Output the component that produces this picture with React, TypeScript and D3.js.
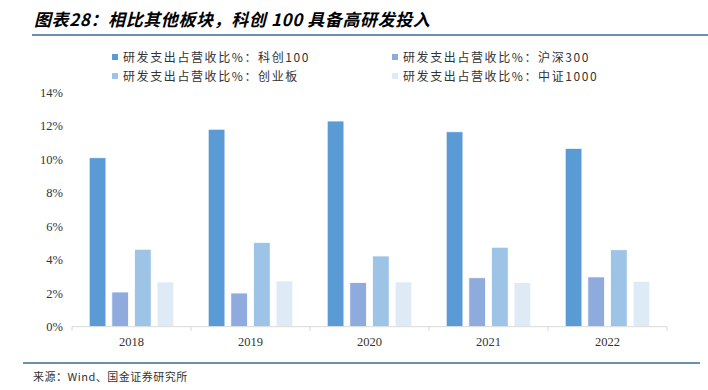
import React from "react";
import * as d3 from "d3";

const categories = ["2018", "2019", "2020", "2021", "2022"];
const seriesNames = [
  "研发支出占营收比%：科创100",
  "研发支出占营收比%：沪深300",
  "研发支出占营收比%：创业板",
  "研发支出占营收比%：中证1000",
];
const kc100 = [10.08, 11.78, 12.27, 11.63, 10.64];
const hs300 = [2.07, 2.01, 2.63, 2.92, 2.97];
const cyb = [4.62, 5.03, 4.22, 4.74, 4.59];
const zz1000 = [2.67, 2.73, 2.67, 2.63, 2.71];
const yTicks = [0, 2, 4, 6, 8, 10, 12, 14];
const colors = ["#5B9BD5", "#8FAADC", "#9DC3E6", "#DEEBF7"];

const W = 708;
const H = 390;

export default function App() {
  const series = [kc100, hs300, cyb, zz1000];
  const x = d3.scaleBand<string>().domain(categories).range([72, 667]).paddingInner(0).paddingOuter(0);
  const y = d3.scaleLinear().domain([0, 14]).range([326.7, 92]);
  const inner = d3
    .scaleBand<number>()
    .domain([0, 1, 2, 3])
    .range([0, x.bandwidth()])
    .paddingInner(0.26)
    .paddingOuter(0.76);

  const serif = "'Liberation Serif', 'Times New Roman', serif";
  const cjk = "'Noto Sans CJK SC', sans-serif";

  return (
    <svg
      width={W}
      height={H}
      style={{ position: "absolute", left: 0, top: 0, background: "#fff" }}
    >
      <text
        x={34}
        y={26}
        fontFamily={cjk}
        fontSize={17}
        fontWeight="bold"
        fontStyle="italic"
        fill="#000"
        letterSpacing={0.6}
      >
        图表28：相比其他板块，科创 100 具备高研发投入
      </text>
      <line x1={32} x2={708} y1={35} y2={35} stroke="#3A6C92" strokeWidth={1.5} />

      {seriesNames.map((name, i) => {
        const lx = i % 2 === 0 ? 112 : 392;
        const ly = i < 2 ? 58 : 77;
        return (
          <g key={name}>
            <rect x={lx} y={ly - 4} width={6} height={6} fill={colors[i]} />
            <text
              x={lx + 11}
              y={ly + 4}
              fontFamily={cjk}
              fontSize={12}
              fill="#333"
              letterSpacing={1.6}
            >
              {name}
            </text>
          </g>
        );
      })}

      {yTicks.map((t) => (
        <text
          key={t}
          x={63}
          y={y(t) + 4.5}
          textAnchor="end"
          fontFamily={serif}
          fontSize={12.5}
          fill="#333"
        >
          {t}%
        </text>
      ))}

      {categories.map((c, ci) =>
        series.map((s, si) => (
          <rect
            key={c + si}
            x={(x(c) as number) + (inner(si) as number)}
            y={y(s[ci])}
            width={inner.bandwidth()}
            height={y(0) - y(s[ci])}
            fill={colors[si]}
            stroke="#fff"
            strokeWidth={0.8}
          />
        ))
      )}

      <line x1={72} x2={667} y1={326.7} y2={326.7} stroke="#D9D9D9" strokeWidth={1} />
      {[...categories.map((c) => x(c) as number), 667].map((tx, i) => (
        <line key={i} x1={tx} x2={tx} y1={326.7} y2={331} stroke="#D9D9D9" strokeWidth={1} />
      ))}
      {categories.map((c) => (
        <text
          key={c}
          x={(x(c) as number) + x.bandwidth() / 2}
          y={346}
          textAnchor="middle"
          fontFamily={serif}
          fontSize={12.5}
          fill="#333"
        >
          {c}
        </text>
      ))}

      <line x1={23} x2={700} y1={363} y2={363} stroke="#3A6C92" strokeWidth={1.5} />
      <text x={33} y={381} fontFamily={cjk} fontSize={11} fill="#333" letterSpacing={0.5}>
        来源：Wind、国金证券研究所
      </text>
    </svg>
  );
}
